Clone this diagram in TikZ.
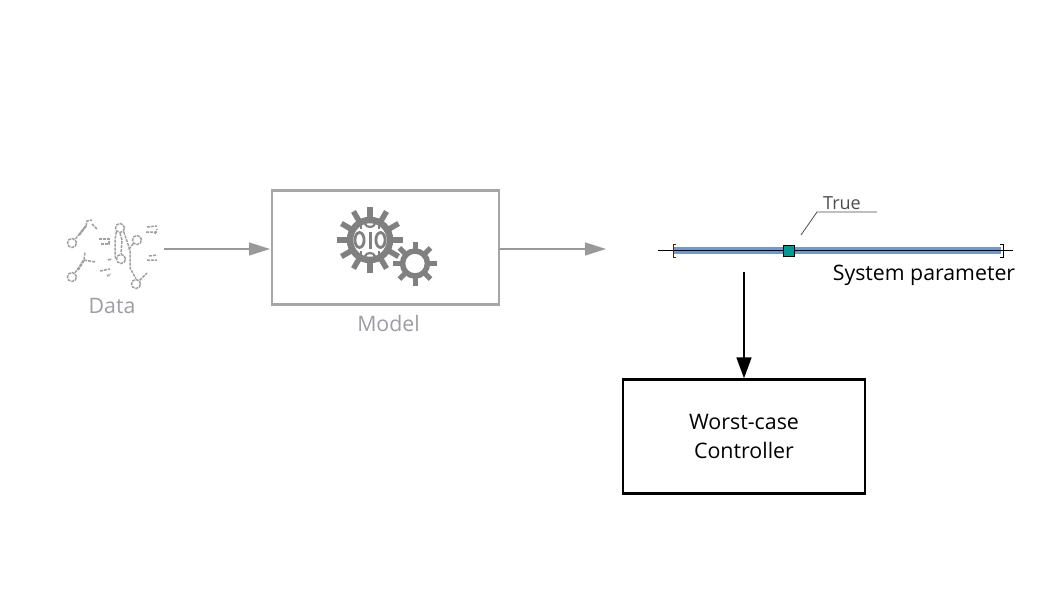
\documentclass[tikz,border=0pt]{standalone}
\usepackage{fontspec}
\setmainfont{Open Sans}
\usetikzlibrary{arrows.meta}
\definecolor{fadeline}{HTML}{999999}
\definecolor{fadebox}{HTML}{A6A6A6}
\definecolor{fadetext}{HTML}{9C9CA6}
\definecolor{gearc}{HTML}{808080}
\definecolor{barblue}{HTML}{6F9BCB}
\definecolor{teal1}{HTML}{009B8F}
\definecolor{sketch}{HTML}{A0A0A0}
\tikzset{
  x=1pt,y=-1pt,
  fadearrow/.style={draw=fadeline,line width=1.3pt,-{Triangle[length=21pt,width=13pt]}},
  blackarrow/.style={draw=black,line width=1.7pt,-{Triangle[length=21pt,width=15pt]}},
  fadedbox/.style={draw=fadebox,line width=2.4pt,rectangle,minimum width=227pt,minimum height=114pt,inner sep=0pt},
  ctrlbox/.style={draw=black,line width=2.4pt,rectangle,minimum width=242pt,minimum height=114pt,inner sep=0pt,align=center,font=\fontsize{21.4}{29}\selectfont,text=black},
  lab/.style={font=\fontsize{21.3}{24}\selectfont,inner sep=0pt},
  sk/.style={draw=sketch,line width=1.5pt,dash pattern=on 3pt off 1pt},
  skc/.style={sk,circle,minimum size=9pt,inner sep=0pt},
}
\begin{document}
\begin{tikzpicture}
\useasboundingbox (0,0) rectangle (1058,595);
% data icon
\foreach \n/\px/\py in {a/72/243,c/120/228,e/121/259,f/72/277,d/137/240,h/136/284}{
  \node[skc] (\n) at (\px,\py) {};
}
\coordinate (b) at (86,226);
\coordinate (g) at (84,260);
\draw[sk] (a) -- (b);
\draw[sk,line width=2.2pt] (79,235) -- (b);
\draw[sk] (b) -- (87,221) -- (92,220);
\draw[sk] (92,224) -- (97,229);
\draw[sk] (f) -- (g) -- (85,252);
\draw[sk,line width=2.2pt] (78,270) -- (g);
\draw[sk] (g) -- (95,262);
\draw[sk] (c.south west) -- (115,240) -- (115,255) -- (e.west);
\draw[sk] (c.south east) -- (130,250) -- (130,268) -- (h.north);
\draw[sk] (c.south) -- (122,240) -- (e.north);
\draw[sk] (d.south west) -- (128,250);
\draw[sk] (h) -- (147,273);
\draw[sk] (99,239) -- (109,239) -- (109,244) -- (100,244);
\draw[sk] (146,232) -- (157,232) (147,227) -- (157,226) (155,234) -- (157,229);
\draw[sk] (147,260) -- (157,260) (149,256) -- (157,255);
\draw[sk] (100,271) -- (110,269) (107,276) -- (111,274);
\draw[sk] (108,260) -- (112,259);
\node[lab,text=fadetext] (datalab) at (112,305.5) {Data};
% model
\node[fadedbox] (model) at (385.5,247.5) {};
\node[lab,text=fadetext] (modellab) at (388.5,323.5) {Model};
% gears
\foreach \a in {0,30,...,330}{
  \draw[gearc,line width=5.5pt] ({370+cos(\a)*20},{240+sin(\a)*20}) -- ({370+cos(\a)*33},{240+sin(\a)*33});
}
\draw[gearc,line width=6.5pt] (370,240) circle[radius=20pt];
\foreach \a in {0,45,...,315}{
  \draw[gearc,line width=5pt] ({415+cos(\a)*12},{263.5+sin(\a)*12}) -- ({415+cos(\a)*22},{263.5+sin(\a)*22});
}
\draw[gearc,line width=5.5pt] (415,263.5) circle[radius=12.5pt];
\draw[gearc,line width=2.8pt] (359.5,240) ellipse[x radius=4.6pt,y radius=7.5pt] (380.5,240) ellipse[x radius=4.6pt,y radius=7.5pt];
\draw[gearc,line width=3pt] (370,232) -- (370,249);
\draw[gearc,line width=2.2pt] (365,224) .. controls (367,228) and (373,228) .. (375,224);
\draw[gearc,line width=2.2pt] (365,256) .. controls (367,252) and (373,252) .. (375,256);
\draw[gearc,line width=2pt] (361,225) -- (361,229) (379,225) -- (379,229) (361,251) -- (361,255) (379,251) -- (379,255);
% connectors
\coordinate (dataout) at (164,249);
\coordinate (modelin) at (270,249);
\coordinate (modelright) at (499,249);
\coordinate (modelout) at (606,249);
\draw[fadearrow] (dataout) -- (modelin);
\draw[fadearrow] (modelright) -- (modelout);
% parameter axis
\coordinate (axl) at (658,250.5);
\coordinate (axr) at (1013,250.5);
\coordinate (bl) at (674,250.5);
\coordinate (br) at (1001,250.5);
\draw[barblue,line width=7pt] (bl) -- (br);
\draw[black,line width=1pt] (axl) -- (axr);
\draw[black!70!orange,line width=1pt] (676,244) -- (673,244) -- (673,257) -- (676,257);
\draw[black,line width=1pt] (1000,244) -- (1003,244) -- (1003,257) -- (1000,257);
\node[draw=black,fill=teal1,line width=1pt,minimum size=11pt,inner sep=0pt] (truemark) at (789,250.5) {};
\coordinate (leaderstart) at (801,235);
\coordinate (leaderend) at (877,212);
\draw[black!70,line width=.8pt] (leaderstart) -- (817,212) -- (leaderend);
\node[font=\fontsize{18}{20}\selectfont,inner sep=0pt,text=black!70] (truelab) at (842,203) {True};
\node[lab,text=black] (syslab) at (924,275) {System parameter};
% controller
\node[ctrlbox] (ctrl) at (744,436.5) {Worst-case\\Controller};
\coordinate (down) at (744,272);
\draw[blackarrow] (down) -- (ctrl.north);
\end{tikzpicture}
\end{document}
